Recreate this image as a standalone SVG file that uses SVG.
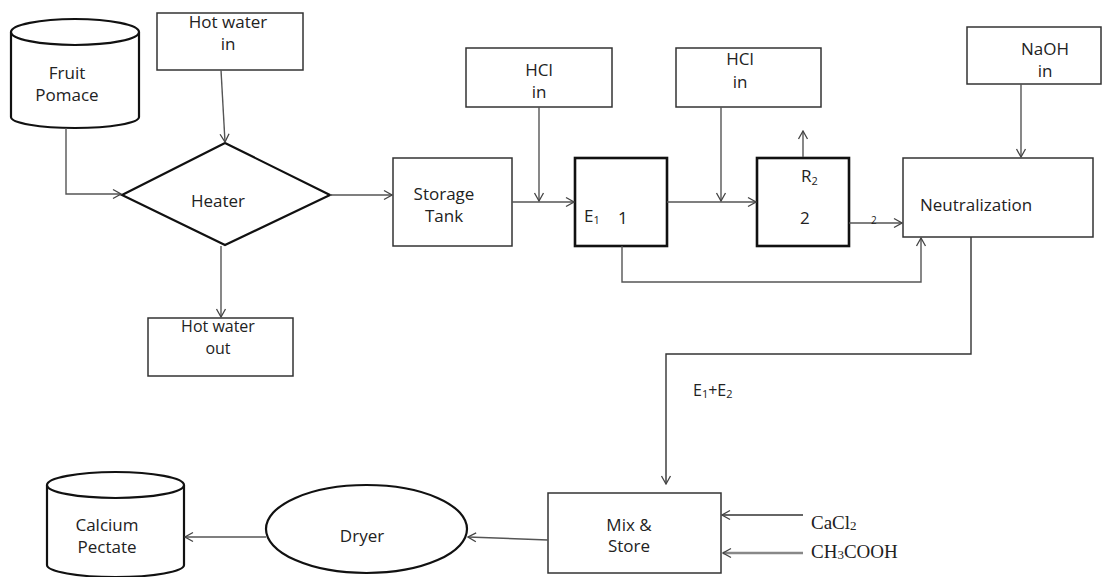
<svg xmlns="http://www.w3.org/2000/svg" width="1102" height="577" viewBox="0 0 1102 577">
<style>
.t{font-family:"Open Sans","DejaVu Sans",sans-serif;font-size:17px;fill:#222;}
.s{font-size:11px;}
.serif{font-family:"Liberation Serif","Times New Roman",serif;font-size:19px;fill:#222;}
.box{fill:#fff;stroke:#333;stroke-width:1.5;}
.thick{fill:#fff;stroke:#111;stroke-width:2.6;}
.shape{fill:#fff;stroke:#111;stroke-width:2.2;}
.c{fill:none;stroke:#555;stroke-width:1.4;}
.cg{fill:none;stroke:#888;stroke-width:2.4;}
</style>
<defs>
<marker id="a" markerUnits="userSpaceOnUse" markerWidth="10" markerHeight="12" refX="9" refY="6" orient="auto" viewBox="0 0 10 12">
<path d="M1,1.5 L9,6 L1,10.5" fill="none" stroke="#444" stroke-width="1.3"/>
</marker>
</defs>
<rect width="1102" height="577" fill="#fff"/>

<g id="fruit-pomace">
<path class="shape" d="M11,32 L11,117 A64,11 0 0 0 139,117 L139,32"/>
<ellipse class="shape" cx="75" cy="32" rx="64" ry="13"/>
<text class="t" x="67" y="79" text-anchor="middle">Fruit</text>
<text class="t" x="67" y="101" text-anchor="middle">Pomace</text>
</g>

<g id="hot-water-in">
<rect class="box" x="157" y="13" width="146" height="57"/>
<text class="t" x="228" y="28" text-anchor="middle">Hot water</text>
<text class="t" x="228" y="50" text-anchor="middle">in</text>
</g>

<g id="heater">
<polygon class="shape" points="225,143 330,195 225,245 122,195"/>
<text class="t" x="218" y="207" text-anchor="middle">Heater</text>
</g>

<g id="hot-water-out">
<rect class="box" x="148" y="318" width="145" height="58"/>
<text class="t" x="218" y="332" text-anchor="middle" style="font-size:16px">Hot water</text>
<text class="t" x="218" y="354" text-anchor="middle" style="font-size:16px">out</text>
</g>

<g id="storage-tank">
<rect class="box" x="393" y="158" width="119" height="88"/>
<text class="t" x="444" y="200" text-anchor="middle">Storage</text>
<text class="t" x="444" y="222" text-anchor="middle">Tank</text>
</g>

<g id="hcl-in-1">
<rect class="box" x="466" y="48" width="146" height="59"/>
<text class="t" x="539" y="76" text-anchor="middle">HCl</text>
<text class="t" x="539" y="98" text-anchor="middle">in</text>
</g>

<g id="e1">
<rect class="thick" x="575" y="158" width="92" height="88"/>
<text class="t" x="584" y="222">E<tspan class="s" dy="2">1</tspan></text>
<text class="t" x="618" y="224">1</text>
</g>

<g id="hcl-in-2">
<rect class="box" x="676" y="48" width="145" height="59"/>
<text class="t" x="740" y="65" text-anchor="middle">HCl</text>
<text class="t" x="740" y="88" text-anchor="middle">in</text>
</g>

<g id="r2">
<rect class="thick" x="757" y="158" width="92" height="88"/>
<text class="t" x="801" y="182">R<tspan class="s" dy="3">2</tspan></text>
<text class="t" x="800" y="224">2</text>
</g>

<g id="naoh-in">
<rect class="box" x="967" y="27" width="134" height="57"/>
<text class="t" x="1045" y="55" text-anchor="middle">NaOH</text>
<text class="t" x="1045" y="77" text-anchor="middle">in</text>
</g>

<g id="neutralization">
<rect class="box" x="903" y="158" width="190" height="79"/>
<text class="t" x="920" y="211">Neutralization</text>
</g>

<g id="mix-store">
<rect class="box" x="548" y="493" width="173" height="80"/>
<text class="t" x="629" y="531" text-anchor="middle">Mix &amp;</text>
<text class="t" x="629" y="552" text-anchor="middle">Store</text>
</g>

<g id="dryer">
<ellipse class="shape" cx="366.5" cy="529" rx="100.5" ry="44"/>
<text class="t" x="362" y="542" text-anchor="middle">Dryer</text>
</g>

<g id="calcium-pectate">
<path class="shape" d="M47,485 L47,565 A68.5,12 0 0 0 184,565 L184,485"/>
<ellipse class="shape" cx="115.5" cy="485" rx="68.5" ry="13"/>
<text class="t" x="107" y="531" text-anchor="middle">Calcium</text>
<text class="t" x="107" y="553" text-anchor="middle">Pectate</text>
</g>

<g id="connectors">
<path class="c" d="M66,128 L66,194 L121,194" marker-end="url(#a)"/>
<path class="c" d="M221,70 L225,142" marker-end="url(#a)"/>
<path class="c" d="M221,246 L221,317" marker-end="url(#a)"/>
<path class="c" d="M330,195 L392,195" marker-end="url(#a)"/>
<path class="c" d="M512,202 L574,202" marker-end="url(#a)"/>
<path class="c" d="M539,107 L539,201" marker-end="url(#a)"/>
<path class="c" d="M667,202 L756,202" marker-end="url(#a)"/>
<path class="c" d="M721,107 L721,201" marker-end="url(#a)"/>
<path class="c" d="M803,157 L803,131" marker-end="url(#a)"/>
<path class="c" d="M849,223 L902,223" marker-end="url(#a)"/>
<text class="t" x="871" y="224" style="font-size:10px">2</text>
<path class="c" d="M1021,84 L1021,157" marker-end="url(#a)"/>
<path class="c" d="M622,246 L622,282 L921,282 L921,238" marker-end="url(#a)"/>
<path class="c" d="M971,237 L971,354 L666,354 L666,484" marker-end="url(#a)" style="stroke:#333"/>
<text class="t" x="693" y="396" style="font-size:16px">E<tspan class="s" dy="2">1</tspan><tspan dy="-2">+E</tspan><tspan class="s" dy="2">2</tspan></text>
<path class="c" d="M803,515 L722,515" marker-end="url(#a)" style="stroke:#333"/>
<path class="cg" d="M803,553 L723,553" marker-end="url(#a)"/>
<text class="serif" x="811" y="529">CaCl<tspan style="font-size:13px" dy="1">2</tspan></text>
<text class="serif" x="811" y="558">CH<tspan style="font-size:13px" dy="1">3</tspan><tspan dy="-1">COOH</tspan></text>
<path class="c" d="M548,540 L468,537" marker-end="url(#a)"/>
<path class="c" d="M266,537 L185,537" marker-end="url(#a)"/>
</g>
</svg>
